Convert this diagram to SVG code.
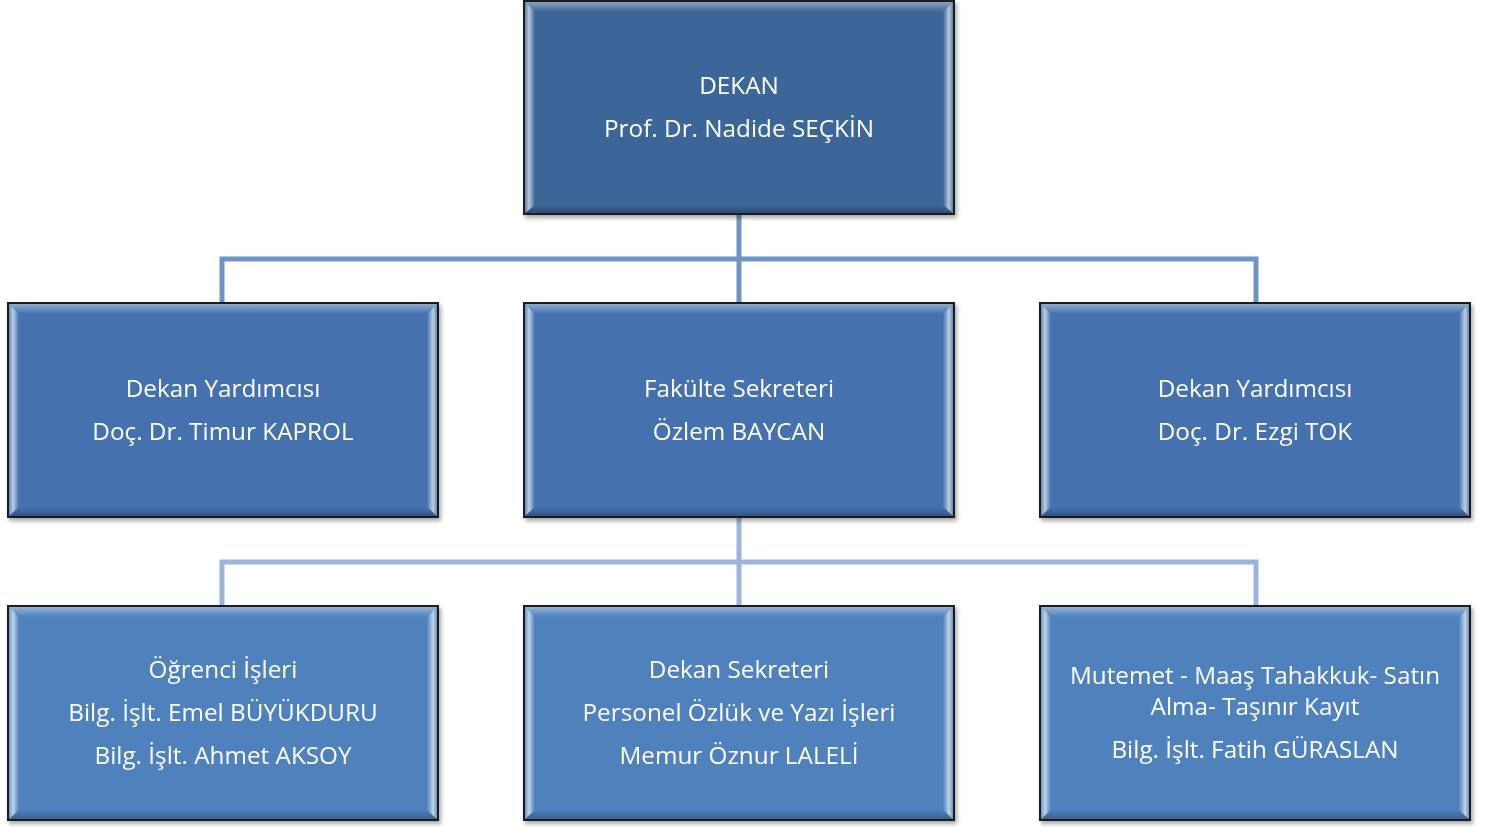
<svg xmlns="http://www.w3.org/2000/svg" width="1487" height="827" viewBox="0 0 1487 827">
<defs>
<linearGradient id="gl" x1="0" y1="0" x2="1" y2="0"><stop offset="0" stop-color="#ffffff" stop-opacity="0.15"/><stop offset="0.4" stop-color="#ffffff" stop-opacity="0.65"/><stop offset="1" stop-color="#ffffff" stop-opacity="0"/></linearGradient>
<linearGradient id="gr" x1="1" y1="0" x2="0" y2="0"><stop offset="0" stop-color="#ffffff" stop-opacity="0.15"/><stop offset="0.4" stop-color="#ffffff" stop-opacity="0.65"/><stop offset="1" stop-color="#ffffff" stop-opacity="0"/></linearGradient>
<linearGradient id="gt" x1="0" y1="0" x2="0" y2="1"><stop offset="0" stop-color="#ffffff" stop-opacity="0.4"/><stop offset="1" stop-color="#ffffff" stop-opacity="0"/></linearGradient>
<linearGradient id="gb" x1="0" y1="1" x2="0" y2="0"><stop offset="0" stop-color="#000000" stop-opacity="0.25"/><stop offset="1" stop-color="#000000" stop-opacity="0"/></linearGradient>
<filter id="sh" x="-5%" y="-5%" width="110%" height="110%"><feGaussianBlur in="SourceAlpha" stdDeviation="2"/><feOffset dx="2" dy="3"/><feComponentTransfer><feFuncA type="linear" slope="0.35"/></feComponentTransfer><feMerge><feMergeNode/><feMergeNode in="SourceGraphic"/></feMerge></filter>
</defs>
<style>
.box{stroke:#1a1a1a;stroke-width:2}
.l0{fill:#3c6698}.l1{fill:#4472ae}.l2{fill:#4f81bd}
.t{font-family:"Open Sans","Noto Sans",sans-serif;font-size:24.3px;fill:#ffffff;text-anchor:middle}
.c1{fill:none;stroke:#7093c6;stroke-width:5}
.c2{fill:none;stroke:#9bb5da;stroke-width:5}
</style>
<g id="connectors">
<path class="c1" d="M739 214V259M222 302V259H1256V302M739 259V302"/>
<path class="c2" d="M739 517V562M222 605V562H1256V605M739 562V605"/>
</g>
<g id="n-dekan" filter="url(#sh)">
<rect class="box l0" x="524" y="1" width="430" height="213"/>
<path d="M525 2h428l-10 10H535z" fill="url(#gt)"/>
<path d="M525 2l10 10v193l-10 8z" fill="url(#gl)"/>
<path d="M953 2l-10 10v193l10 8z" fill="url(#gr)"/>
<path d="M525 213h428l-10-8H535z" fill="url(#gb)"/>
<text class="t" x="739" y="94">DEKAN</text>
<text class="t" x="739" y="137">Prof. Dr. Nadide SEÇKİN</text>
</g>
<g id="n-yard1" filter="url(#sh)">
<rect class="box l1" x="8" y="303" width="430" height="214"/>
<path d="M9 304h428l-10 10H19z" fill="url(#gt)"/>
<path d="M9 304l10 10v193l-10 9z" fill="url(#gl)"/>
<path d="M437 304l-10 10v193l10 9z" fill="url(#gr)"/>
<path d="M9 516h428l-10-9H19z" fill="url(#gb)"/>
<text class="t" x="223" y="397">Dekan Yardımcısı</text>
<text class="t" x="223" y="440">Doç. Dr. Timur KAPROL</text>
</g>
<g id="n-sekreter" filter="url(#sh)">
<rect class="box l1" x="524" y="303" width="430" height="214"/>
<path d="M525 304h428l-10 10H535z" fill="url(#gt)"/>
<path d="M525 304l10 10v193l-10 9z" fill="url(#gl)"/>
<path d="M953 304l-10 10v193l10 9z" fill="url(#gr)"/>
<path d="M525 516h428l-10-9H535z" fill="url(#gb)"/>
<text class="t" x="739" y="397">Fakülte Sekreteri</text>
<text class="t" x="739" y="440">Özlem BAYCAN</text>
</g>
<g id="n-yard2" filter="url(#sh)">
<rect class="box l1" x="1040" y="303" width="430" height="214"/>
<path d="M1041 304h428l-10 10H1051z" fill="url(#gt)"/>
<path d="M1041 304l10 10v193l-10 9z" fill="url(#gl)"/>
<path d="M1469 304l-10 10v193l10 9z" fill="url(#gr)"/>
<path d="M1041 516h428l-10-9H1051z" fill="url(#gb)"/>
<text class="t" x="1255" y="397">Dekan Yardımcısı</text>
<text class="t" x="1255" y="440">Doç. Dr. Ezgi TOK</text>
</g>
<g id="n-ogrenci" filter="url(#sh)">
<rect class="box l2" x="8" y="606" width="430" height="214"/>
<path d="M9 607h428l-10 10H19z" fill="url(#gt)"/>
<path d="M9 607l10 10v193l-10 9z" fill="url(#gl)"/>
<path d="M437 607l-10 10v193l10 9z" fill="url(#gr)"/>
<path d="M9 819h428l-10-9H19z" fill="url(#gb)"/>
<text class="t" x="223" y="678">Öğrenci İşleri</text>
<text class="t" x="223" y="721">Bilg. İşlt. Emel BÜYÜKDURU</text>
<text class="t" x="223" y="764">Bilg. İşlt. Ahmet AKSOY</text>
</g>
<g id="n-dekansek" filter="url(#sh)">
<rect class="box l2" x="524" y="606" width="430" height="214"/>
<path d="M525 607h428l-10 10H535z" fill="url(#gt)"/>
<path d="M525 607l10 10v193l-10 9z" fill="url(#gl)"/>
<path d="M953 607l-10 10v193l10 9z" fill="url(#gr)"/>
<path d="M525 819h428l-10-9H535z" fill="url(#gb)"/>
<text class="t" x="739" y="678">Dekan Sekreteri</text>
<text class="t" x="739" y="721">Personel Özlük ve Yazı İşleri</text>
<text class="t" x="739" y="764">Memur Öznur LALELİ</text>
</g>
<g id="n-mutemet" filter="url(#sh)">
<rect class="box l2" x="1040" y="606" width="430" height="214"/>
<path d="M1041 607h428l-10 10H1051z" fill="url(#gt)"/>
<path d="M1041 607l10 10v193l-10 9z" fill="url(#gl)"/>
<path d="M1469 607l-10 10v193l10 9z" fill="url(#gr)"/>
<path d="M1041 819h428l-10-9H1051z" fill="url(#gb)"/>
<text class="t" x="1255" y="684">Mutemet - Maaş Tahakkuk- Satın</text>
<text class="t" x="1255" y="715">Alma- Taşınır Kayıt</text>
<text class="t" x="1255" y="758">Bilg. İşlt. Fatih GÜRASLAN</text>
</g>
</svg>
